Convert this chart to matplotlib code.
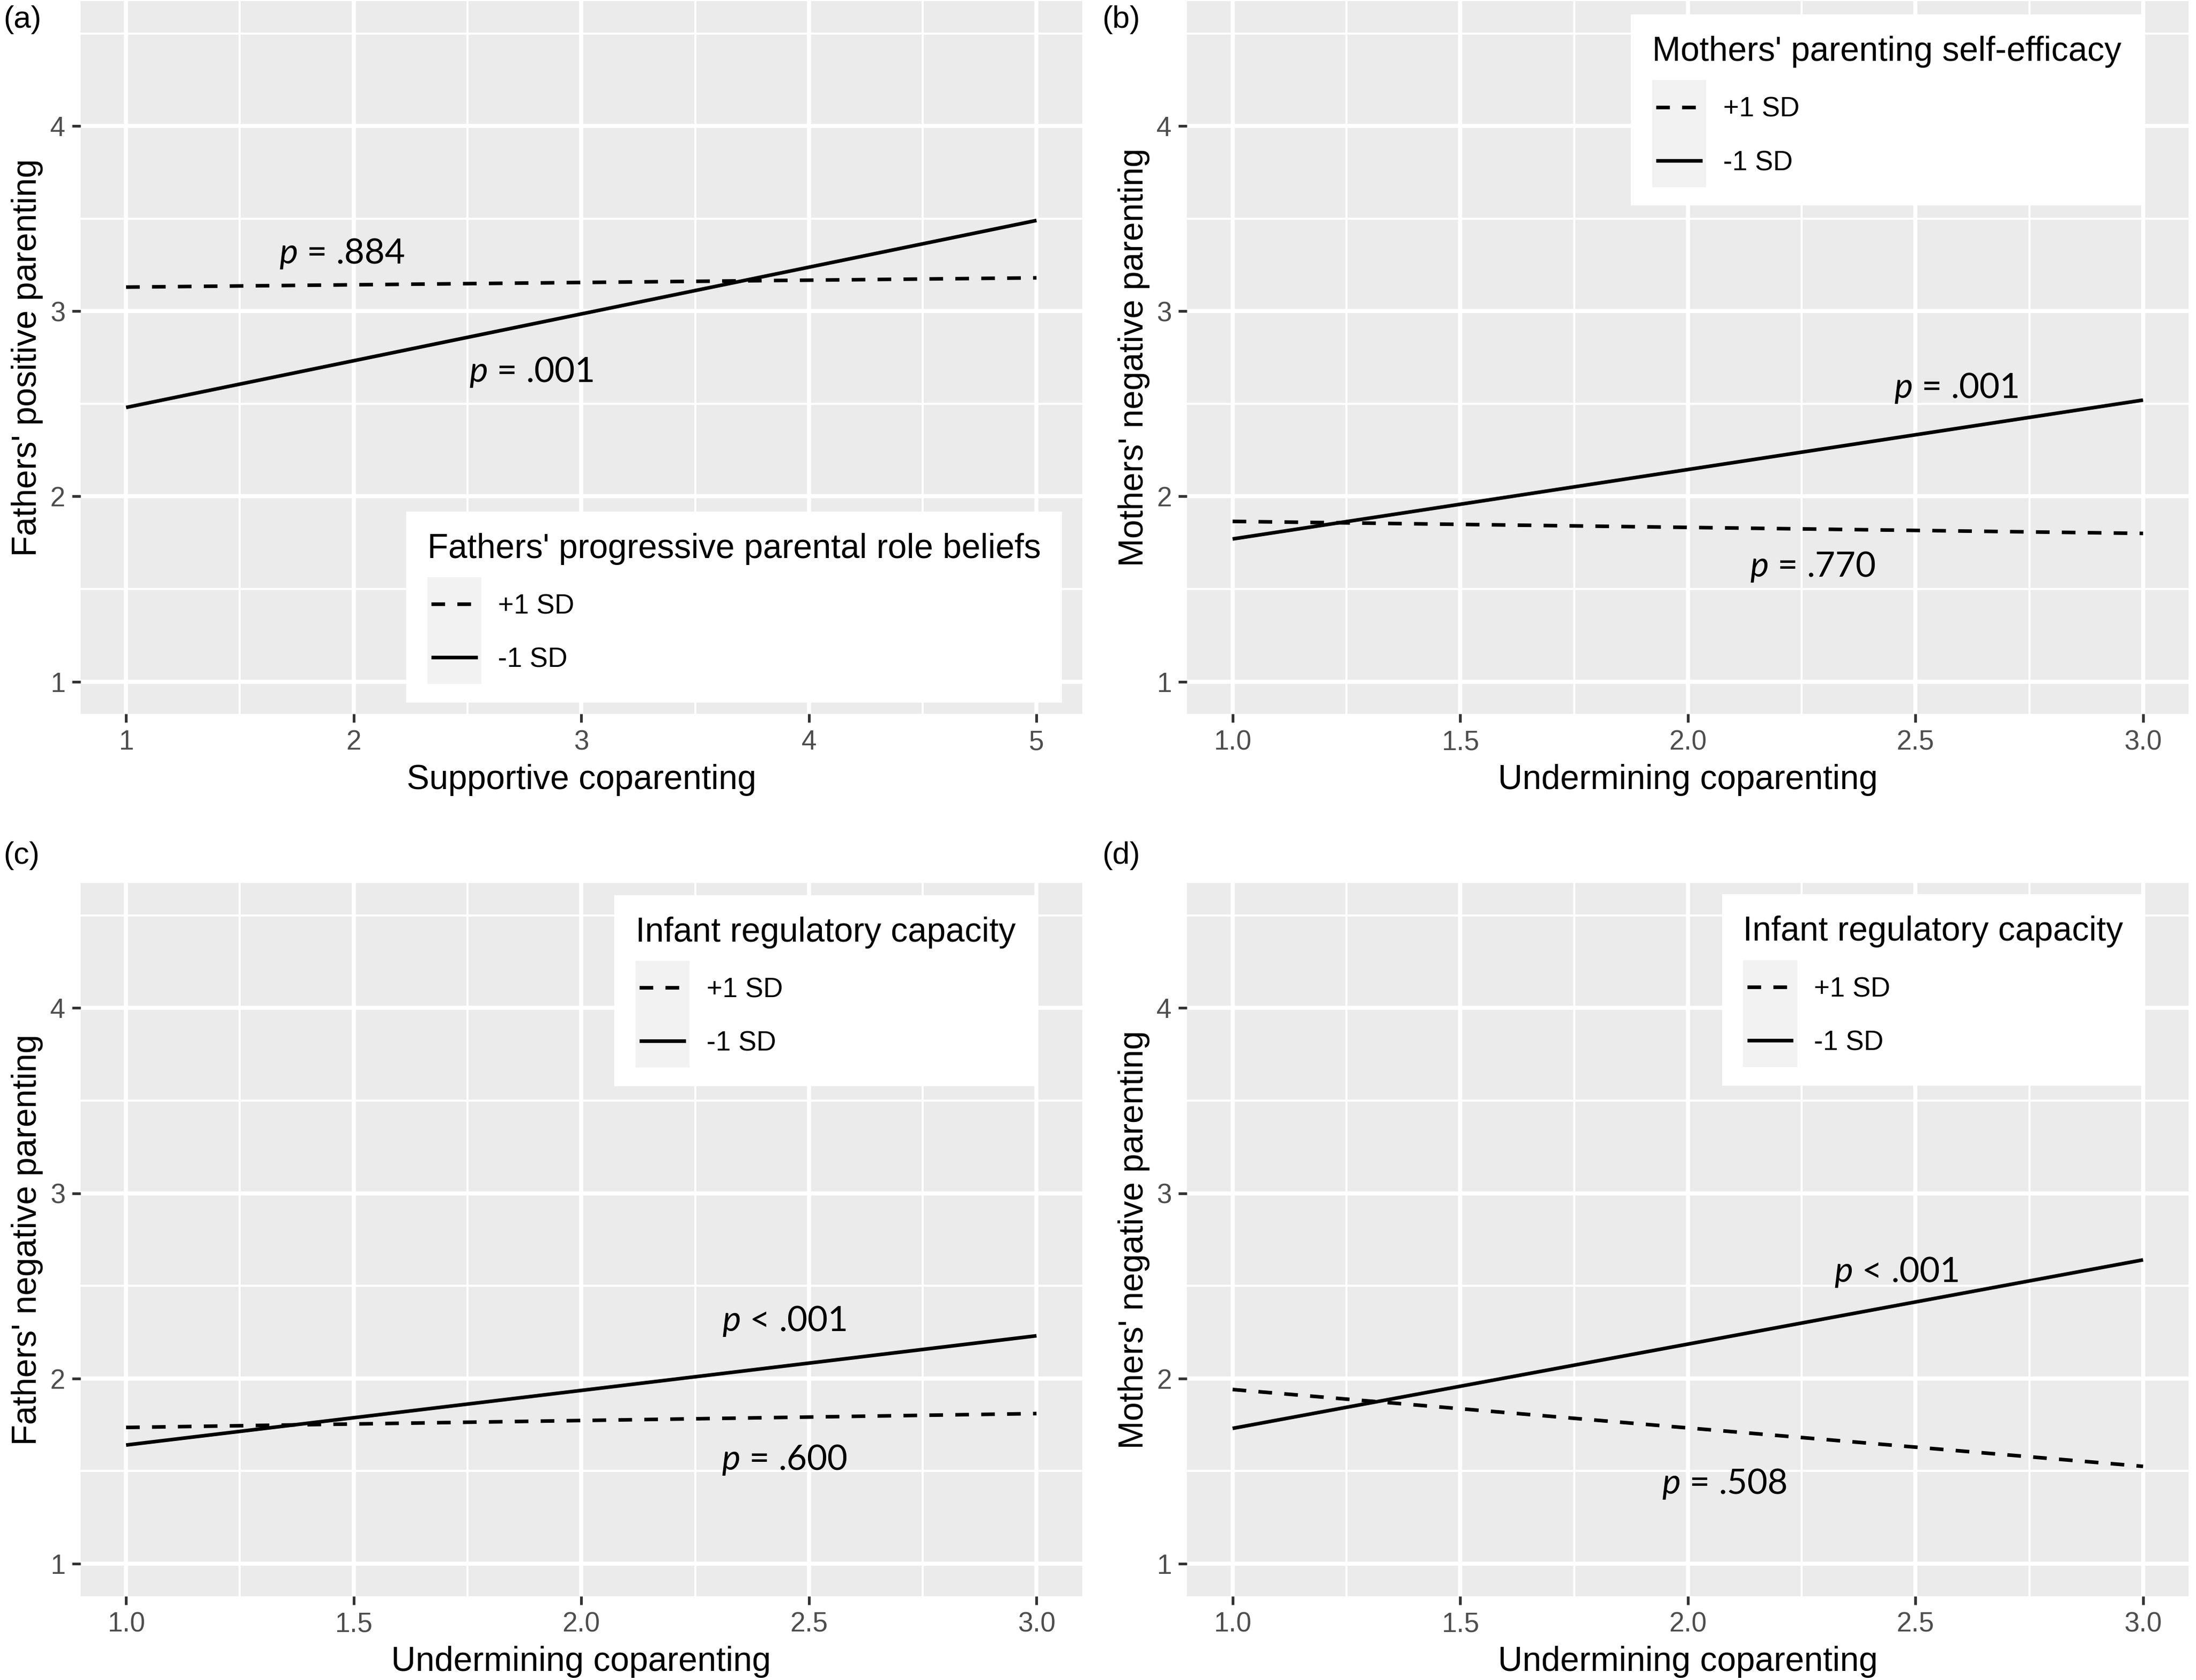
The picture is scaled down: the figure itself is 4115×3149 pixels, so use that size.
import matplotlib
matplotlib.use("Agg")
import matplotlib.pyplot as plt
from matplotlib.lines import Line2D
from matplotlib.patches import Rectangle
from matplotlib.legend_handler import HandlerLine2D
from matplotlib.ticker import MultipleLocator

# values (simple slopes at +/-1 SD of the moderator)
x_support = [1, 5]
a_plus = [3.13, 3.18]
a_minus = [2.48, 3.49]

x_undermine = [1.0, 3.0]
b_plus = [1.865, 1.80]
b_minus = [1.77, 2.52]
c_plus = [1.735, 1.81]
c_minus = [1.64, 2.23]
d_plus = [1.94, 1.525]
d_minus = [1.73, 2.64]

legend_labels = ["+1 SD", "-1 SD"]
panel_tags = ["(a)", "(b)", "(c)", "(d)"]
x_titles = ["Supportive coparenting", "Undermining coparenting",
            "Undermining coparenting", "Undermining coparenting"]
y_titles = ["Fathers' positive parenting", "Mothers' negative parenting",
            "Fathers' negative parenting", "Mothers' negative parenting"]
moderators = ["Fathers' progressive parental role beliefs",
              "Mothers' parenting self-efficacy",
              "Infant regulatory capacity", "Infant regulatory capacity"]

# p-value notes: x, y, text
notes_a = [(1.95, 3.31, r"$p$ = .884"), (2.78, 2.67, r"$p$ = .001")]
notes_b = [(2.59, 2.585, r"$p$ = .001"), (2.275, 1.62, r"$p$ = .770")]
notes_c = [(2.446, 2.31, r"$p$ < .001"), (2.446, 1.56, r"$p$ = .600")]
notes_d = [(2.458, 2.575, r"$p$ < .001"), (2.08, 1.43, r"$p$ = .508")]

plt.rcParams['font.family'] = ['Liberation Sans', 'DejaVu Sans']
plt.rcParams['mathtext.fontset'] = 'custom'
plt.rcParams['mathtext.it'] = 'Lato:italic'
plt.rcParams['mathtext.rm'] = 'Lato'

PANEL_BG = "#EBEBEB"
KEY_BG = "#F2F2F2"
LW = 1.85
DASH = (0, (3.8, 3.4))


class KeyHandler(HandlerLine2D):
    # ggplot-like legend key: light grey square with the line across it
    def create_artists(self, legend, orig_handle, xdescent, ydescent,
                       width, height, fontsize, trans):
        mid = 0.36 * fontsize
        key_h = 27.5
        bg = Rectangle((-xdescent, mid - key_h / 2), width, key_h,
                       facecolor=KEY_BG, edgecolor="none", transform=trans)
        line = Line2D([-xdescent + 0.07 * width, -xdescent + 0.93 * width], [mid, mid])
        self.update_prop(line, orig_handle, legend)
        line.set_transform(trans)
        return [bg, line]


fig = plt.figure(figsize=(4115 / 262.5, 3149 / 262.5), dpi=262.5)

W, H = 1567.8, 1200.0
lefts = [57.5, 847.5, 57.5, 847.5]
tops = [0.7, 0.7, 630.7, 630.7]
aw, ah = 715.0, 509.3

xs = [x_support, x_undermine, x_undermine, x_undermine]
plus = [a_plus, b_plus, c_plus, d_plus]
minus = [a_minus, b_minus, c_minus, d_minus]
notes = [notes_a, notes_b, notes_c, notes_d]
legend_anchor = [("lower right", (0.980, 0.016)), ("upper right", (0.954, 0.981)),
                 ("upper right", (0.955, 0.983)), ("upper right", (0.956, 0.984))]
tag_pos = [(2.5, 20), (787, 20), (2.5, 617), (787, 617)]

for i in range(4):
    ax = fig.add_axes([lefts[i] / W, 1 - (tops[i] + ah) / H, aw / W, ah / H])
    ax.set_facecolor(PANEL_BG)
    for s in ax.spines.values():
        s.set_visible(False)

    h1, = ax.plot(xs[i], plus[i], color="black", lw=LW, linestyle=DASH,
                  label=legend_labels[0], solid_capstyle="butt", dash_capstyle="butt")
    h2, = ax.plot(xs[i], minus[i], color="black", lw=LW, linestyle="-",
                  label=legend_labels[1], solid_capstyle="butt")

    if i == 0:
        ax.set_xlim(0.8, 5.2)
        ax.xaxis.set_major_locator(MultipleLocator(1))
        ax.xaxis.set_minor_locator(MultipleLocator(0.5))
    else:
        ax.set_xlim(0.9, 3.1)
        ax.xaxis.set_major_locator(MultipleLocator(0.5))
        ax.xaxis.set_minor_locator(MultipleLocator(0.25))
        ax.xaxis.set_major_formatter(matplotlib.ticker.FormatStrFormatter("%.1f"))
    ax.set_ylim(0.825, 4.675)
    ax.yaxis.set_major_locator(MultipleLocator(1))
    ax.yaxis.set_minor_locator(MultipleLocator(0.5))

    ax.set_axisbelow(True)
    ax.grid(which="major", color="white", lw=2.1)
    ax.grid(which="minor", color="white", lw=1.05)
    ax.tick_params(which="major", length=4.4, width=1.4, color="#333333",
                   labelsize=14, labelcolor="#4D4D4D", pad=3.5)
    ax.tick_params(which="minor", length=0)

    ax.set_xlabel(x_titles[i], fontsize=17.5, va="baseline")
    ax.xaxis.set_label_coords(0.5, -0.105)
    ax.set_ylabel(y_titles[i], fontsize=17.5, va="baseline")
    ax.yaxis.set_label_coords(-0.044, 0.5)

    for nx, ny, txt in notes[i]:
        ax.text(nx, ny, txt, fontsize=18, family="Lato", ha="center", va="center")

    loc, anchor = legend_anchor[i]
    leg = ax.legend(handles=[h1, h2], title=moderators[i], loc=loc,
                    bbox_to_anchor=anchor, borderaxespad=0, fontsize=14,
                    title_fontsize=17.5, alignment="left", frameon=True,
                    fancybox=False, facecolor="white", edgecolor="none",
                    framealpha=1, borderpad=0.78, labelspacing=0.3,
                    handlelength=1.98, handleheight=2.18, handletextpad=0.62,
                    handler_map={Line2D: KeyHandler()})
    leg.get_frame().set_linewidth(0)
    # a bit more room between the legend title and the keys, as in ggplot
    leg._legend_box.sep = 0.3 * 14 + 5

    fig.text(tag_pos[i][0] / W, 1 - tag_pos[i][1] / H, panel_tags[i],
             fontsize=16, va="baseline", ha="left")

fig.savefig("out.png", dpi=262.5, facecolor="white")
